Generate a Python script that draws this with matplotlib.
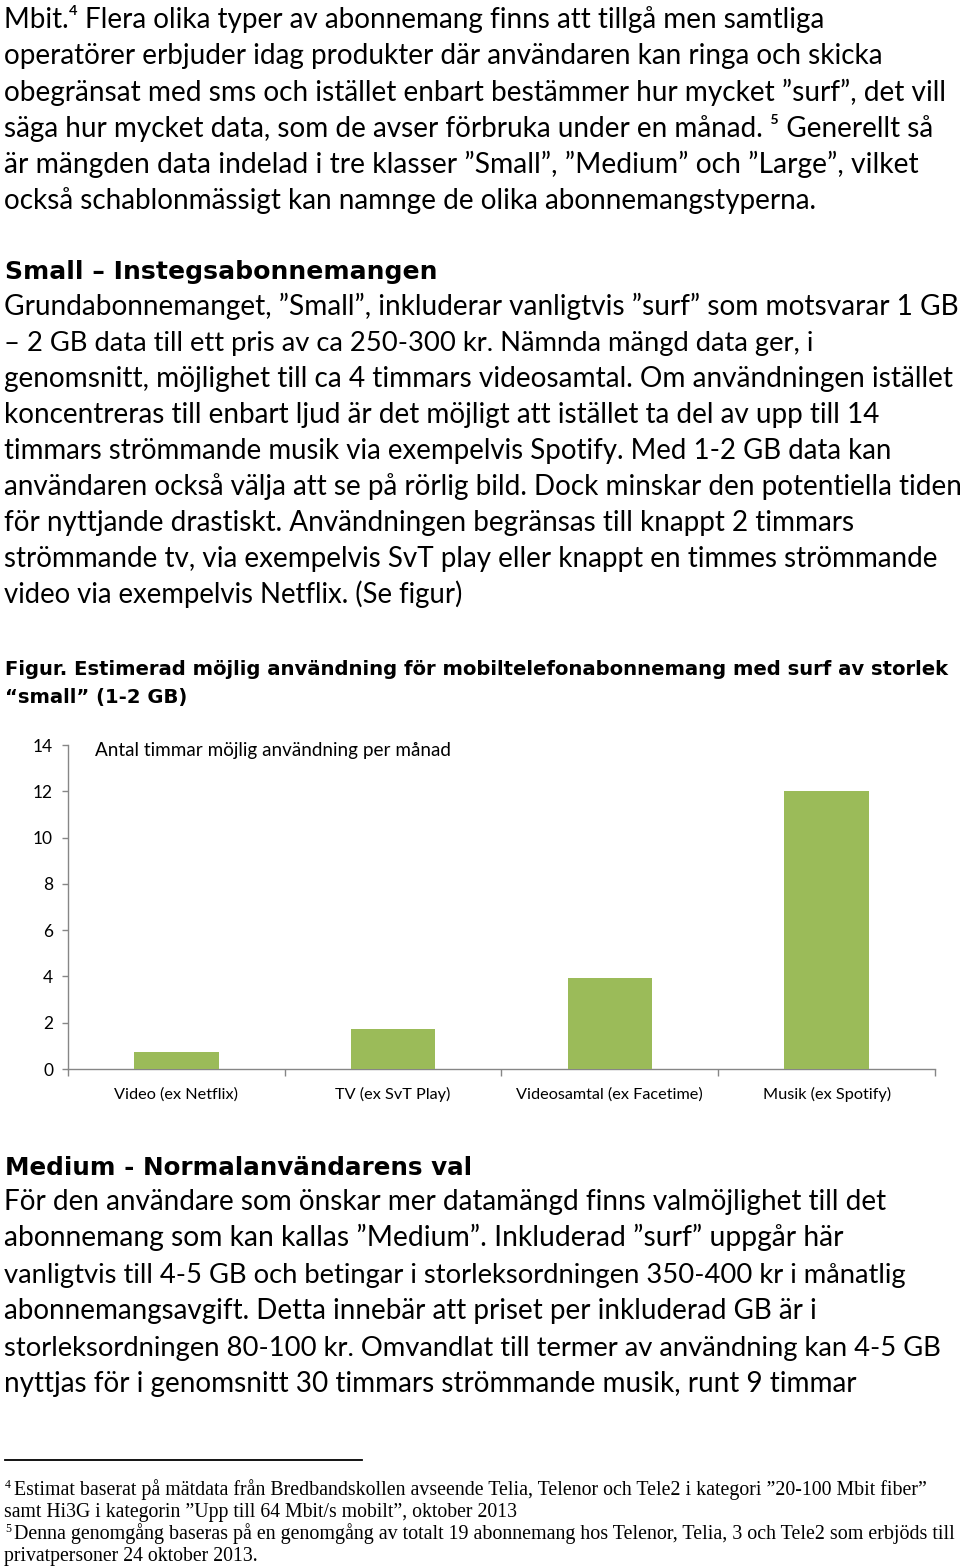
import matplotlib
matplotlib.use("Agg")
import matplotlib.pyplot as plt
from matplotlib.lines import Line2D
import numpy as np

W, H = 960, 1567

# ---------------- data ----------------
categories = ["Video (ex Netflix)", "TV (ex SvT Play)", "Videosamtal (ex Facetime)", "Musik (ex Spotify)"]
hours = [0.75, 1.75, 3.95, 12.0]
yticks = [0, 2, 4, 6, 8, 10, 12, 14]
chart_title = "Antal timmar möjlig användning per månad"

para1 = [
    "Mbit.\u2074 Flera olika typer av abonnemang finns att tillgå men samtliga",
    "operatörer erbjuder idag produkter där användaren kan ringa och skicka",
    "obegränsat med sms och istället enbart bestämmer hur mycket \u201dsurf\u201d, det vill",
    "säga hur mycket data, som de avser förbruka under en månad. \u2075 Generellt så",
    "är mängden data indelad i tre klasser \u201dSmall\u201d, \u201dMedium\u201d och \u201dLarge\u201d, vilket",
    "också schablonmässigt kan namnge de olika abonnemangstyperna.",
]
head_small = "Small \u2013 Instegsabonnemangen"
para2 = [
    "Grundabonnemanget, \u201dSmall\u201d, inkluderar vanligtvis \u201dsurf\u201d som motsvarar 1 GB",
    "\u2013 2 GB data till ett pris av ca 250-300 kr. Nämnda mängd data ger, i",
    "genomsnitt, möjlighet till ca 4 timmars videosamtal. Om användningen istället",
    "koncentreras till enbart ljud är det möjligt att istället ta del av upp till 14",
    "timmars strömmande musik via exempelvis Spotify. Med 1-2 GB data kan",
    "användaren också välja att se på rörlig bild. Dock minskar den potentiella tiden",
    "för nyttjande drastiskt. Användningen begränsas till knappt 2 timmars",
    "strömmande tv, via exempelvis SvT play eller knappt en timmes strömmande",
    "video via exempelvis Netflix. (Se figur)",
]
caption = [
    "Figur. Estimerad möjlig användning för mobiltelefonabonnemang med surf av storlek",
    "\u201csmall\u201d (1-2 GB)",
]
head_medium = "Medium - Normalanvändarens val"
para3 = [
    "För den användare som önskar mer datamängd finns valmöjlighet till det",
    "abonnemang som kan kallas \u201dMedium\u201d. Inkluderad \u201dsurf\u201d uppgår här",
    "vanligtvis till 4-5 GB och betingar i storleksordningen 350-400 kr i månatlig",
    "abonnemangsavgift. Detta innebär att priset per inkluderad GB är i",
    "storleksordningen 80-100 kr. Omvandlat till termer av användning kan 4-5 GB",
    "nyttjas för i genomsnitt 30 timmars strömmande musik, runt 9 timmar",
]
foot_marks = ["4", "", "5", ""]
footnotes = [
    "Estimat baserat på mätdata från Bredbandskollen avseende Telia, Telenor och Tele2 i kategori \u201d20-100 Mbit fiber\u201d",
    "samt Hi3G i kategorin \u201dUpp till 64 Mbit/s mobilt\u201d, oktober 2013",
    "Denna genomgång baseras på en genomgång av totalt 19 abonnemang hos Telenor, Telia, 3 och Tele2 som erbjöds till",
    "privatpersoner 24 oktober 2013.",
]

# ---------------- layout (pixels) ----------------
para1_right = [823, 878, 943, 930, 918, 813]
para1_base = [28, 64, 100.5, 137, 173, 209.5]
para2_right = [955, 813, 950, 877, 888, 957, 850, 935, 463]
para2_base = [315 + 36 * i for i in range(9)]
para3_right = [885, 840, 903, 812, 942, 853]
para3_base = [1210 + 36.4 * i for i in range(6)]
foot_left = [14, 4, 14, 4]
foot_right = [928, 517, 955, 258]
foot_base = [1495, 1517, 1539, 1561]

BODY = ["Lato", "DejaVu Sans"]
BOLD = ["DejaVu Sans"]
SERIF = ["Liberation Serif", "DejaVu Serif"]

fig = plt.figure(figsize=(W / 100, H / 100), dpi=100)
fig.patch.set_facecolor("white")
renderer = fig.canvas.get_renderer()


def fit_line(text, x0, xr, yb, family, weight="normal", size=18, color="black"):
    t = fig.text(x0 / W, 1 - yb / H, text, fontsize=size, family=family,
                 weight=weight, va="baseline", ha="left", color=color)
    bb = t.get_window_extent(renderer)
    t.set_fontsize(size * (xr - x0) / bb.width)
    return t


for txt, xr, yb in zip(para1, para1_right, para1_base):
    fit_line(txt, 4, xr, yb, BODY)

fit_line(head_small, 5, 437, 279, BOLD, weight="bold")
for txt, xr, yb in zip(para2, para2_right, para2_base):
    fit_line(txt, 4, xr, yb, BODY)

fit_line(caption[0], 5, 955, 675, BOLD, weight="bold")
fit_line(caption[1], 5, 188, 703, BOLD, weight="bold")

fit_line(head_medium, 5, 473, 1175, BOLD, weight="bold")
for txt, xr, yb in zip(para3, para3_right, para3_base):
    fit_line(txt, 4, xr, yb, BODY)

# footnote separator
fig.add_artist(Line2D([5 / W, 362 / W], [1 - 1460 / H, 1 - 1460 / H],
                      color="black", lw=1.3, transform=fig.transFigure))
for mark, txt, x0, xr, yb in zip(foot_marks, footnotes, foot_left, foot_right, foot_base):
    if mark:
        fig.text(5 / W, 1 - (yb - 7) / H, mark, fontsize=8.5, family=SERIF,
                 va="baseline", ha="left", color="black")
    fit_line(txt, x0, xr, yb, SERIF)

# ---------------- chart ----------------
ax_l, ax_r, ax_b, ax_t = 68, 935, 1069, 745
ax = fig.add_axes([ax_l / W, 1 - ax_b / H, (ax_r - ax_l) / W, (ax_b - ax_t) / H])
x = np.arange(len(categories))
ax.bar(x, hours, width=0.39, color="#9BBB59", zorder=3)
ax.set_xlim(-0.5, len(categories) - 0.5)
ax.set_ylim(0, 14)
ax.set_yticks(yticks)
ax.set_yticklabels([str(v) for v in yticks], family=BODY, fontsize=12.5, color="black")
ax.set_xticks(x)
ax.set_xticklabels(categories, family=BODY, fontsize=11.7, color="black")
ax.set_xticks(np.arange(-0.5, len(categories), 1.0), minor=True)
ax.tick_params(axis="x", which="major", length=0, pad=13)
ax.tick_params(axis="x", which="minor", length=5, color="#868686", width=1)
ax.tick_params(axis="y", which="major", length=4.3, color="#868686", width=1, pad=6.5)
for s in ["top", "right"]:
    ax.spines[s].set_visible(False)
for s in ["left", "bottom"]:
    ax.spines[s].set_color("#868686")
    ax.spines[s].set_linewidth(1)
ax.set_facecolor("white")

fit_line(chart_title, 95, 448, 756, BODY, size=13)

fig.savefig("out.png", dpi=100, facecolor="white")
